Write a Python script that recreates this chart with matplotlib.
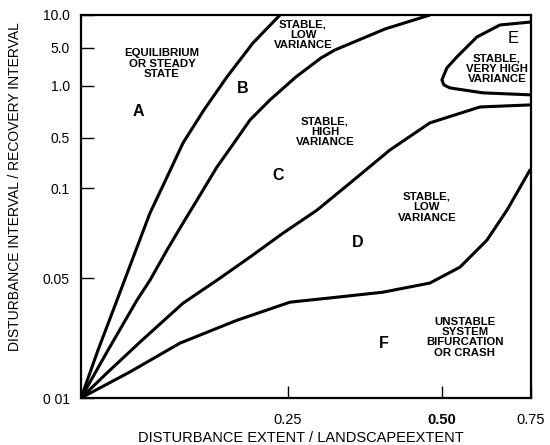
import numpy as np
import matplotlib
matplotlib.use('Agg')
import matplotlib.pyplot as plt
from matplotlib.ticker import FixedLocator, FixedFormatter, NullLocator

plt.rcParams['font.family'] = ['Liberation Sans', 'DejaVu Sans']

# axis ticks
x_ticks = [0.25, 0.50, 0.75]
x_tick_labels = ['0.25', '0.50', '0.75']
y_ticks = [0.01, 0.05, 0.1, 0.5, 1.0, 5.0, 10.0]
y_tick_labels = ['0 01', '0.05', '0.1', '0.5', '1.0', '5.0', '10.0']

# boundary curves
ab_x = [0, 0.0205, 0.0435, 0.0664, 0.0833, 0.1039, 0.1232, 0.1485, 0.1763, 0.2077, 0.2403]
ab_y = [0.01, 0.019, 0.0372, 0.0621, 0.0825, 0.1425, 0.426, 0.726, 1.464, 5.55, 10.0]

bc_x = [0, 0.0326, 0.0676, 0.0833, 0.1039, 0.1232, 0.1401, 0.1642, 0.1848, 0.2041,
        0.2283, 0.2630, 0.3037, 0.3263, 0.4076, 0.4805]
bc_y = [0.01, 0.019, 0.0372, 0.0486, 0.0621, 0.0764, 0.0912, 0.197, 0.426, 0.635,
        0.830, 1.464, 3.27, 4.59, 7.45, 10.0]

cd_x = [0, 0.0314, 0.0713, 0.1232, 0.1642, 0.2041, 0.2440, 0.2971, 0.3507, 0.4156,
        0.4805, 0.6067, 0.7472]
cd_y = [0.01, 0.014, 0.0212, 0.0357, 0.0486, 0.0588, 0.0707, 0.0844, 0.1175, 0.340,
        0.611, 0.755, 0.776]

df_x = [0, 0.0592, 0.1196, 0.1884, 0.2532, 0.3295, 0.4042, 0.4805, 0.5506, 0.6264,
        0.6826, 0.7472]
df_y = [0.01, 0.0142, 0.0209, 0.0284, 0.0362, 0.0387, 0.0414, 0.0468, 0.0544, 0.0670,
        0.0844, 0.179]

e_x = [0.75, 0.6629, 0.5983, 0.5421, 0.514, 0.5, 0.5056, 0.5225, 0.6152, 0.75]
e_y = [8.63, 8.11, 6.30, 3.42, 2.14, 1.29, 1.04, 0.973, 0.911, 0.887]

# where the ticks sit along each axis (fraction of the axis) - the drawn
# axes are neither linear nor log, so map ticks onto these positions
x_frac = [0, 0.46, 0.802, 1.0]
y_frac = [0, 0.313, 0.548, 0.679, 0.815, 0.914, 1.0]
x_pts = [0] + x_ticks
y_logs = np.log10(y_ticks)


def fwd_x(v):
    return np.interp(v, x_pts, x_frac)


def inv_x(f):
    return np.interp(f, x_frac, x_pts)


def fwd_y(v):
    v = np.clip(np.asarray(v, dtype=float), 1e-6, None)
    return np.interp(np.log10(v), y_logs, y_frac)


def inv_y(f):
    return 10 ** np.interp(f, y_frac, y_logs)


fig = plt.figure(figsize=(5.5, 4.45), dpi=100)
ax = fig.add_axes([81 / 550, 47 / 445, 450 / 550, 383 / 445])
ax.set_xscale('function', functions=(fwd_x, inv_x))
ax.set_yscale('function', functions=(fwd_y, inv_y))
ax.set_xlim(0, 0.75)
ax.set_ylim(0.01, 10.0)

lw = 2.2
for xs, ys in [(ab_x, ab_y), (bc_x, bc_y), (cd_x, cd_y), (df_x, df_y), (e_x, e_y)]:
    ax.plot(xs, ys, color='black', lw=lw, solid_joinstyle='round',
            solid_capstyle='round')

small = dict(ha='center', va='center', fontsize=8.2, fontweight='bold',
             linespacing=1.05)
big = dict(ha='center', va='center', fontsize=11.5, fontweight='bold')

ax.text(0.0978, 2.54, 'EQUILIBRIUM\nOR STEADY\nSTATE', **small)
ax.text(0.2744, 6.58, 'STABLE,\nLOW\nVARIANCE', **small)
ax.text(0.3101, 0.542, 'STABLE,\nHIGH\nVARIANCE', **small)
ax.text(0.6545, 2.05, 'STABLE,\nVERY HIGH\nVARIANCE', **small)
ax.text(0.4757, 0.0863, 'STABLE,\nLOW\nVARIANCE', **small)
ax.text(0.5646, 0.0226, 'UNSTABLE\nSYSTEM\nBIFURCATION\nOR CRASH', **small)

ax.text(0.0688, 0.707, 'A', **big)
ax.text(0.1956, 0.961, 'B', **big)
ax.text(0.2379, 0.152, 'C', **big)
ax.text(0.3636, 0.0660, 'D', **big)
ax.text(0.6994, 6.04, 'E', ha='center', va='center', fontsize=12)
ax.text(0.4058, 0.0209, 'F', **big)

ax.xaxis.set_major_locator(FixedLocator(x_ticks))
ax.xaxis.set_major_formatter(FixedFormatter(x_tick_labels))
ax.yaxis.set_major_locator(FixedLocator(y_ticks))
ax.yaxis.set_major_formatter(FixedFormatter(y_tick_labels))
ax.xaxis.set_minor_locator(NullLocator())
ax.yaxis.set_minor_locator(NullLocator())

ax.tick_params(axis='both', direction='in', length=9, width=1.0, color='black')
ax.tick_params(axis='x', pad=11, labelsize=10.5)
ax.tick_params(axis='y', pad=8, labelsize=10)
ax.get_xticklabels()[1].set_fontweight('bold')

for s in ax.spines.values():
    s.set_linewidth(1.6)
    s.set_color('black')

ax.set_xlabel('DISTURBANCE EXTENT / LANDSCAPEEXTENT', fontsize=10.5)
ax.xaxis.set_label_coords((301 - 81) / 450, -(438 - 398) / 383)
ax.set_ylabel('DISTURBANCE INTERVAL / RECOVERY INTERVAL', fontsize=10)
ax.yaxis.set_label_coords(-(81 - 15) / 450, (398 - 187) / 383)
ax.xaxis.label.set_va('center')
ax.yaxis.label.set_va('center')

plt.savefig('out.png', dpi=100)
